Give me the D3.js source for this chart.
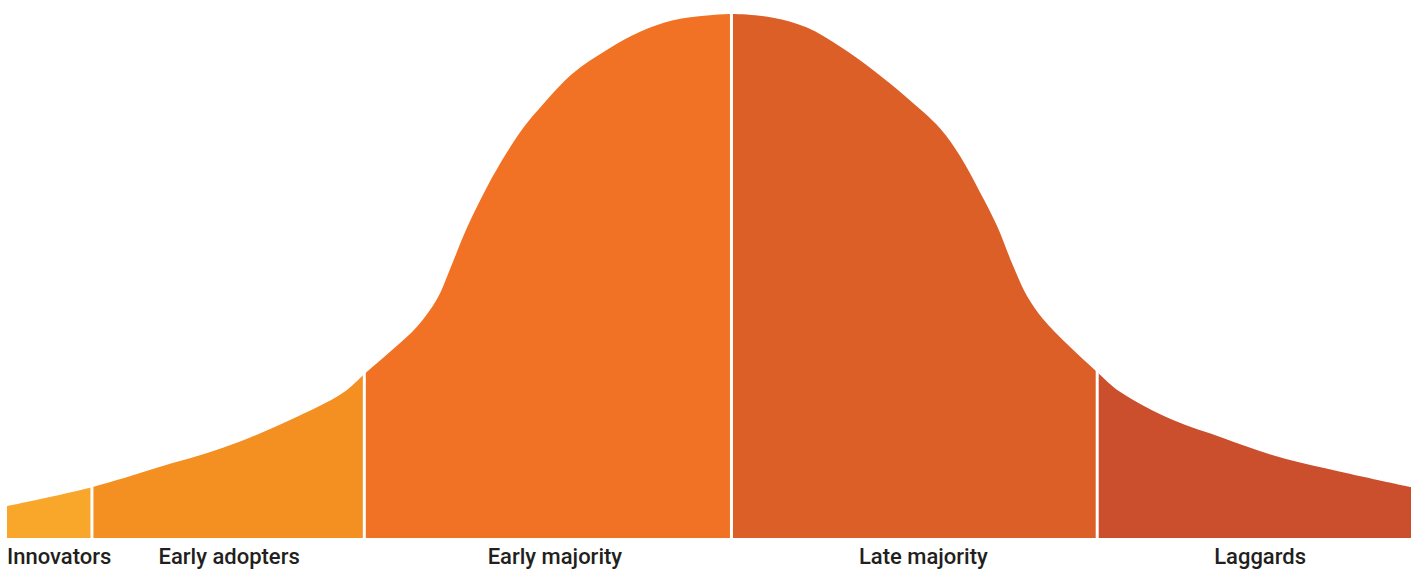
<!DOCTYPE html>
<html>
<head>
<meta charset="utf-8">
<script src="https://cdn.jsdelivr.net/npm/d3@7"></script>
<style>
  html, body { margin: 0; padding: 0; background: #fff; }
  svg { display: block; }
  .label { font-family: Roboto, "Noto Sans", sans-serif; font-weight: 500; font-size: 22px; fill: #231f20; }
</style>
</head>
<body>
<svg id="chart" width="1416" height="570"></svg>
<script>
// Adoption curve: position along the adoption timeline (0–100) and relative share (peak = 100)
const curveX = [0, 6.05, 10.68, 15.38, 20.16, 23.93, 25.5, 27.49, 29.2, 30.63, 31.55, 32.76, 34.19, 35.61, 36.75, 38.18, 40.31, 42.74, 45.09, 47.44, 49.86, 51.57, 54.56, 56.98, 59.33, 61.68, 64.1, 66.45, 67.88, 69.3, 70.51, 71.65, 72.65, 73.79, 75.5, 77.64, 79.27, 83.05, 86.61, 90.17, 93.73, 100];
const curveY = [6.1, 9.7, 13.4, 17.2, 22.5, 27.7, 31.4, 36.0, 40.3, 45.6, 51.3, 59.2, 67.0, 73.6, 78.2, 82.8, 88.7, 93.2, 96.6, 98.8, 99.7, 100, 99.3, 97.4, 93.8, 89.3, 84.0, 78.2, 72.9, 66.0, 59.6, 52.0, 46.2, 41.8, 37.0, 31.7, 27.9, 22.5, 19.1, 15.8, 13.4, 9.7];

// Adopter groups and where each one starts / ends on the timeline
const categories = ["Innovators", "Early adopters", "Early majority", "Late majority", "Laggards"];
const boundaries = [0, 6.05, 25.45, 51.6, 77.65, 100];
const colors = ["#f8a72a", "#f48f21", "#f17224", "#dd5f28", "#cb4f2d"];

const svg = d3.select("#chart");
const margin = { left: 7, right: 5, top: 14, bottom: 32 };
const W = 1416, H = 570;

const x = d3.scaleLinear().domain([0, 100]).range([margin.left, W - margin.right]);
const y = d3.scaleLinear().domain([0, 100]).range([H - margin.bottom, margin.top]);

const points = curveX.map((v, i) => [v, curveY[i]]);

const area = d3.area()
  .x(d => x(d[0]))
  .y0(y(0))
  .y1(d => y(d[1]))
  .curve(d3.curveCatmullRom.alpha(0.5));

const defs = svg.append("defs");

categories.forEach((name, i) => {
  const x0 = x(boundaries[i]), x1 = x(boundaries[i + 1]);
  const id = "seg-" + i;
  defs.append("clipPath").attr("id", id)
    .append("rect")
    .attr("x", x0).attr("y", 0)
    .attr("width", x1 - x0).attr("height", H);

  svg.append("path")
    .datum(points)
    .attr("d", area)
    .attr("fill", colors[i])
    .attr("clip-path", `url(#${id})`);
});

// White separators between groups
svg.selectAll("line.sep")
  .data(boundaries.slice(1, -1))
  .join("line")
  .attr("class", "sep")
  .attr("x1", d => x(d)).attr("x2", d => x(d))
  .attr("y1", 0).attr("y2", y(0) + 1)
  .attr("stroke", "#fff")
  .attr("stroke-width", 3);

// Group labels: the first sits flush with the left edge, the rest centre under their segment
const labelShift = [0, 1, 7, 9, 6];
svg.selectAll("text.label")
  .data(categories)
  .join("text")
  .attr("class", "label")
  .attr("x", (d, i) => i === 0 ? x(boundaries[0])
    : (x(boundaries[i]) + x(boundaries[i + 1])) / 2 + labelShift[i])
  .attr("y", 564)
  .attr("text-anchor", (d, i) => i === 0 ? "start" : "middle")
  .text(d => d);
</script>
</body>
</html>
